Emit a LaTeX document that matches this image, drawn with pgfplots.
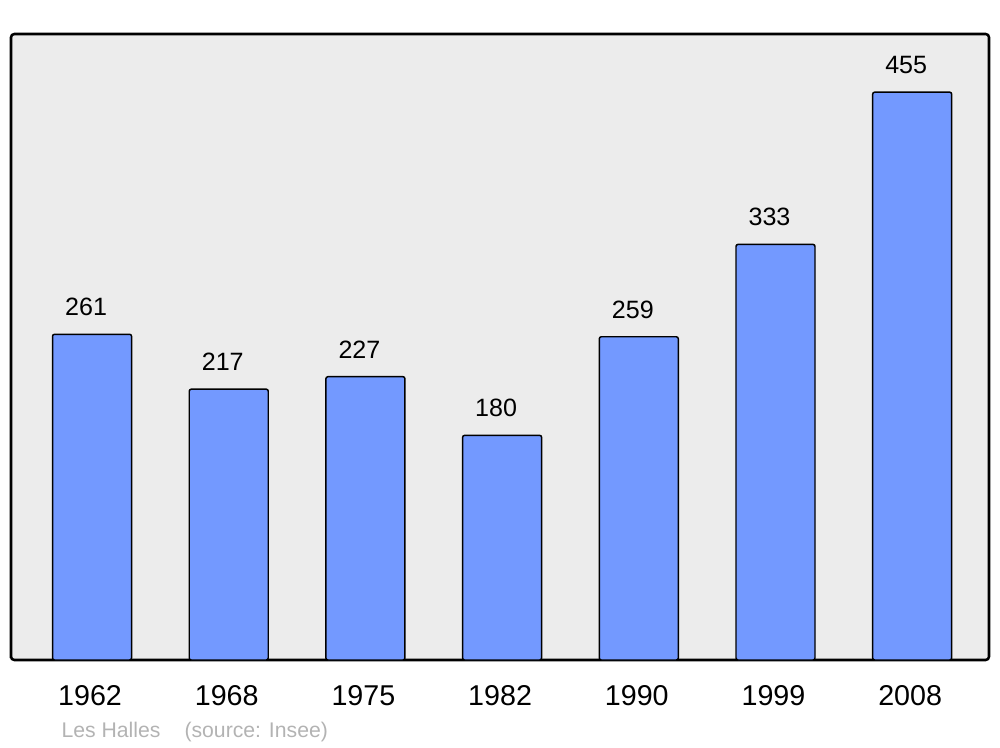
\documentclass[border=0pt]{standalone}
\usepackage{fontspec}
\setmainfont{Liberation Sans}
\usepackage{pgfplots}
\pgfplotsset{compat=1.18}
\definecolor{barblue}{HTML}{7399FF}
\definecolor{bgray}{HTML}{ECECEC}
\definecolor{foot}{HTML}{B3B3B3}
\begin{document}
\begin{tikzpicture}
\path (0,0) rectangle (750pt,560.25pt);
\begin{axis}[
  at={(8.25pt,65.25pt)}, anchor=south west,
  scale only axis, width=733.5pt, height=469.5pt,
  xmin=-0.593, xmax=6.562, ymin=0, ymax=501.6,
  ybar, bar width=59.25pt,
  xtick={0,1,2,3,4,5,6},
  xticklabels={1962,1968,1975,1982,1990,1999,2008},
  ytick=\empty,
  major tick length=0pt,
  xticklabel style={anchor=base, yshift=-33.75pt, xshift=-1.5pt, font=\fontsize{21.5}{25}\selectfont},
  axis background/.style={fill=bgray},
  axis line style={line width=1.9pt, rounded corners=2.5pt},
  /pgf/number format/assume math mode=true,
  nodes near coords,
  every node near coord/.append style={anchor=base, yshift=14pt, xshift=-4.5pt, font=\fontsize{18.8}{22}\selectfont, text=black},
  clip=false,
]
\addplot[fill=barblue, draw=black, line width=1.1pt, rounded corners=1.5pt] coordinates {
  (0,261) (1,217) (2,227) (3,180) (4,259) (5,333) (6,455)
};
\end{axis}
\node[anchor=base west, text=foot, font=\fontsize{15.9}{19}\selectfont, inner sep=0pt] at (46pt,7.5pt) {Les Halles\hspace{18pt}(source: Insee)};
\end{tikzpicture}
\end{document}
